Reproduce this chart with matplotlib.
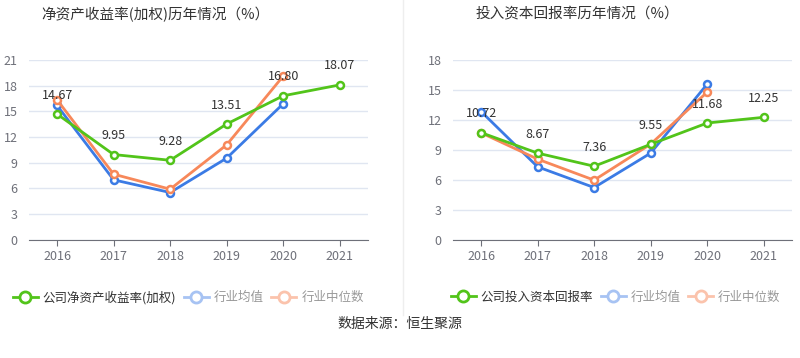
import matplotlib.pyplot as plt
from matplotlib.lines import Line2D

plt.rcParams['font.family'] = ['Noto Sans CJK SC', 'DejaVu Sans']

# data
years = [2016, 2017, 2018, 2019, 2020, 2021]
roe_company = [14.67, 9.95, 9.28, 13.51, 16.80, 18.07]
roe_ind_mean = [15.67, 7.00, 5.52, 9.53, 15.87]
roe_ind_median = [16.33, 7.66, 5.91, 11.08, 19.10]
roic_company = [10.72, 8.67, 7.36, 9.55, 11.68, 12.25]
roic_ind_mean = [12.83, 7.30, 5.23, 8.67, 15.57]
roic_ind_median = [10.70, 8.07, 5.97, 9.57, 14.77]

green = '#52c41a'
blue = '#3b7be5'
orange = '#f7885a'


def draw(ax, company, mean, median, ymax, label, legx):
    ax.plot(years[:len(mean)], mean, color=blue, lw=2, marker='o', ms=5,
            mfc='white', mew=1.8, zorder=3)
    ax.plot(years[:len(median)], median, color=orange, lw=2, marker='o', ms=5,
            mfc='white', mew=1.8, zorder=3)
    ax.plot(years, company, color=green, lw=2, marker='o', ms=5,
            mfc='white', mew=1.8, zorder=4)
    for x, v in zip(years, company):
        ax.annotate(f'{v:.2f}', (x, v), xytext=(0, 9), textcoords='offset points',
                    ha='center', va='bottom', fontsize=9, color='#333333', zorder=5)
    ax.set_xlim(2015.5, 2021.5)
    ax.set_ylim(0, ymax)
    ax.set_yticks(range(0, ymax + 1, 3))
    ax.set_xticks(years)
    ax.grid(axis='y', color='#e0e6f1', lw=1)
    ax.set_axisbelow(True)
    for s in ['top', 'right', 'left']:
        ax.spines[s].set_visible(False)
    ax.spines['bottom'].set_color('#6e7079')
    ax.tick_params(axis='y', length=0, labelsize=9, labelcolor='#6e7079', pad=8)
    ax.tick_params(axis='x', length=4, color='#6e7079', labelsize=9,
                   labelcolor='#6e7079')
    handles = [
        Line2D([], [], color=green, lw=2, marker='o', ms=8, mfc='white', mew=2),
        Line2D([], [], color='#a7c3f3', lw=2, marker='o', ms=8, mfc='white', mew=2),
        Line2D([], [], color='#fbc3ac', lw=2, marker='o', ms=8, mfc='white', mew=2),
    ]
    leg = ax.legend(handles, [label, '行业均值', '行业中位数'], loc='upper center',
                    bbox_to_anchor=(legx, -0.22), ncol=3, frameon=False,
                    fontsize=9, handlelength=2.0, columnspacing=0.6,
                    handletextpad=0.4)
    for t, c in zip(leg.get_texts(), ['#333333', '#999999', '#999999']):
        t.set_color(c)


fig = plt.figure(figsize=(8, 3.58), dpi=100)
ax1 = fig.add_axes([0.036, 0.33, 0.424, 0.503])
ax2 = fig.add_axes([0.566, 0.33, 0.424, 0.503])

draw(ax1, roe_company, roe_ind_mean, roe_ind_median, 21, '公司净资产收益率(加权)', 0.47)
draw(ax2, roic_company, roic_ind_mean, roic_ind_median, 18, '公司投入资本回报率', 0.48)

fig.text(0.194, 0.96, '净资产收益率(加权)历年情况（%）', ha='center', va='center',
         fontsize=10.5, color='#333333')
fig.text(0.722, 0.96, '投入资本回报率历年情况（%）', ha='center', va='center',
         fontsize=10.5, color='#333333')

fig.add_artist(Line2D([0.504, 0.504], [0.12, 1.0], color='#eeeeee', lw=1))
fig.text(0.5, 0.095, '数据来源：恒生聚源', ha='center', va='center',
         fontsize=10, color='#333333')

fig.savefig('out.png', dpi=100)
